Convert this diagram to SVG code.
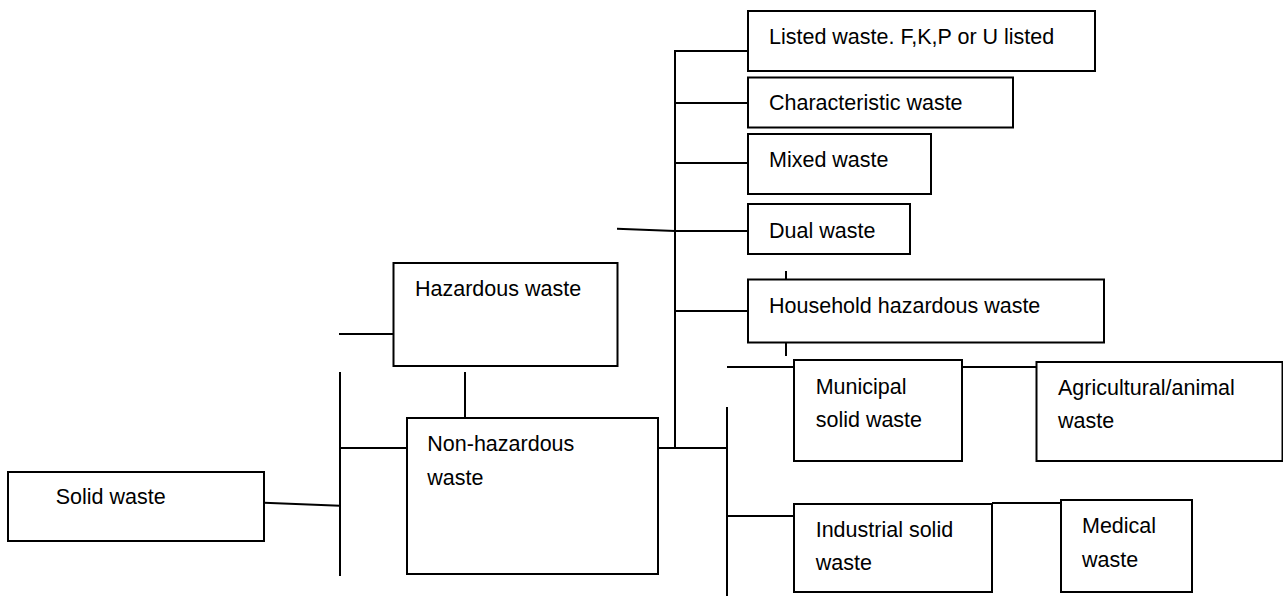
<svg xmlns="http://www.w3.org/2000/svg" width="1283" height="596" viewBox="0 0 1283 596">
<style>
.box{fill:#fff;stroke:#000;stroke-width:2}
.ln{stroke:#000;stroke-width:2;fill:none}
text{font-family:"Liberation Sans",Arial,sans-serif;font-size:21.5px;fill:#000}
</style>
<rect width="1283" height="596" fill="#fff"/>
<g id="connectors">
<line class="ln" x1="675" y1="50" x2="675" y2="449"/>
<line class="ln" x1="675" y1="51" x2="748" y2="51"/>
<line class="ln" x1="675" y1="103" x2="748" y2="103"/>
<line class="ln" x1="675" y1="163" x2="748" y2="163"/>
<polyline class="ln" points="617,228.7 675,231 748,231"/>
<line class="ln" x1="675" y1="311" x2="748" y2="311"/>
<line class="ln" x1="786" y1="271" x2="786" y2="279"/>
<line class="ln" x1="786" y1="342" x2="786" y2="356"/>
<line class="ln" x1="658" y1="448" x2="727" y2="448"/>
<line class="ln" x1="727" y1="407" x2="727" y2="596"/>
<line class="ln" x1="727" y1="367" x2="794" y2="367"/>
<line class="ln" x1="962" y1="367" x2="1036" y2="367"/>
<line class="ln" x1="727" y1="516" x2="794" y2="516"/>
<line class="ln" x1="992" y1="503" x2="1061" y2="503"/>
<line class="ln" x1="339" y1="334" x2="393" y2="334"/>
<line class="ln" x1="465" y1="372" x2="465" y2="418"/>
<line class="ln" x1="340" y1="372" x2="340" y2="576"/>
<line class="ln" x1="340" y1="448" x2="407" y2="448"/>
<line class="ln" x1="264" y1="502.7" x2="340" y2="505.7"/>
</g>
<g id="listed"><rect class="box" x="748" y="11" width="347" height="60"/><text x="769" y="44">Listed waste. F,K,P or U listed</text></g>
<g id="characteristic"><rect class="box" x="748" y="77.5" width="265" height="50"/><text x="769" y="110">Characteristic waste</text></g>
<g id="mixed"><rect class="box" x="748" y="134" width="183" height="60"/><text x="769" y="166.7">Mixed waste</text></g>
<g id="dual"><rect class="box" x="748" y="204" width="162" height="50"/><text x="769" y="238.3">Dual waste</text></g>
<g id="household"><rect class="box" x="748" y="279.5" width="356" height="63"/><text x="769" y="312.7">Household hazardous waste</text></g>
<g id="hazardous"><rect class="box" x="393.5" y="263" width="224" height="103"/><text x="415" y="295.7">Hazardous waste</text></g>
<g id="nonhazardous"><rect class="box" x="407" y="418" width="251" height="156"/><text x="427.3" y="450.7">Non-hazardous</text><text x="427.3" y="485">waste</text></g>
<g id="solid"><rect class="box" x="8" y="472" width="256" height="69"/><text x="55.7" y="504">Solid waste</text></g>
<g id="municipal"><rect class="box" x="794" y="360" width="168" height="101"/><text x="815.7" y="394">Municipal</text><text x="815.7" y="427.3">solid waste</text></g>
<g id="agricultural"><rect class="box" x="1036.5" y="362" width="246" height="99"/><text x="1058" y="394.5">Agricultural/animal</text><text x="1058" y="428">waste</text></g>
<g id="industrial"><rect class="box" x="794" y="504" width="198" height="88"/><text x="815.7" y="537.3">Industrial solid</text><text x="815.7" y="570">waste</text></g>
<g id="medical"><rect class="box" x="1061" y="500" width="131" height="92"/><text x="1082" y="533.3">Medical</text><text x="1082" y="567.3">waste</text></g>
</svg>
